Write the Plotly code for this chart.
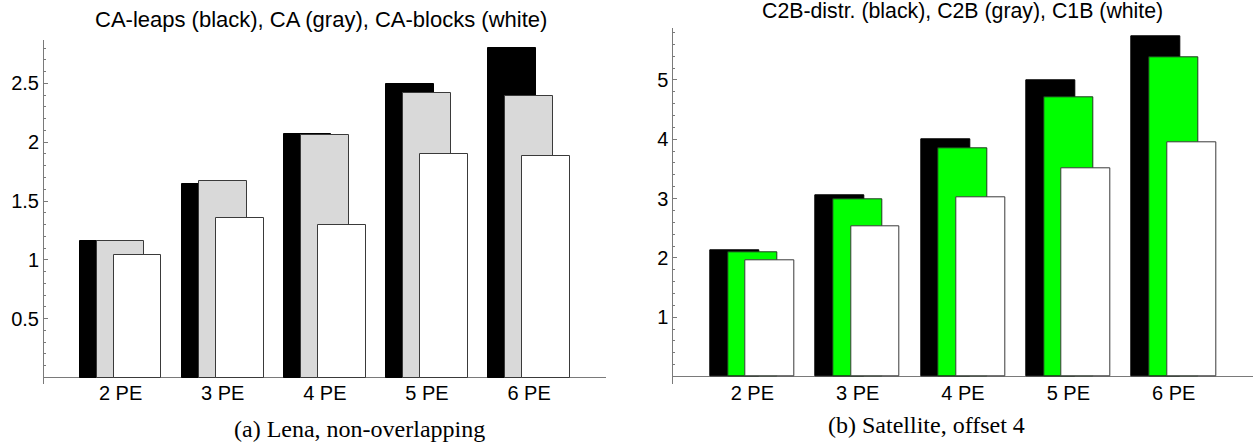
import plotly.graph_objects as go

W, H = 1255, 443

categories = ["2 PE", "3 PE", "4 PE", "5 PE", "6 PE"]

# Panel (a): Lena, non-overlapping
ca_leaps = [1.163, 1.642, 2.072, 2.491, 2.802]
ca = [1.163, 1.670, 2.061, 2.415, 2.395]
ca_blocks = [1.041, 1.353, 1.299, 1.899, 1.880]

# Panel (b): Satellite, offset 4
c2b_distr = [2.122, 3.056, 4.000, 4.994, 5.741]
c2b = [2.088, 2.988, 3.841, 4.701, 5.387]
c1b = [1.953, 2.530, 3.015, 3.504, 3.942]

left_ticks = [0.5, 1, 1.5, 2, 2.5]
left_ticktext = ["0.5", "1", "1.5", "2", "2.5"]
right_ticks = [1, 2, 3, 4, 5]
right_ticktext = ["1", "2", "3", "4", "5"]

xpos = list(range(len(categories)))
BW = 0.465
OFFS = [-0.40, -0.232, -0.065]

fig = go.Figure()

def add_bars(vals_list, colors, lines, xa, ya):
    for vals, col, lc, off in zip(vals_list, colors, lines, OFFS):
        fig.add_trace(go.Bar(
            x=xpos, y=vals, xaxis=xa, yaxis=ya,
            width=BW, offset=off,
            marker=dict(color=col, line=dict(color=lc, width=1)),
            showlegend=False, hoverinfo="skip",
        ))

add_bars([ca_leaps, ca, ca_blocks], ["#000000", "#d9d9d9", "#ffffff"],
         ["#000000", "#3a3a3a", "#3a3a3a"], "x", "y")
add_bars([c2b_distr, c2b, c1b], ["#000000", "#00ff00", "#ffffff"],
         ["#000000", "#1e3a1e", "#3a3a3a"], "x2", "y2")

def px_x(p):
    return p / W

def px_y(p):
    return (H - p) / H

axis_gray = "#7a7a7a"
tickfont = dict(family="Liberation Sans, Arial, sans-serif", size=20, color="#000")

common_x = dict(
    tickmode="array", tickvals=xpos, ticktext=categories,
    range=[-0.75, 4.75], showgrid=False, zeroline=False, showline=False,
    ticks="", tickfont=tickfont, fixedrange=True, ticklabelstandoff=-5,
)
common_y = dict(
    showgrid=False, showline=True, linecolor=axis_gray, linewidth=1,
    zeroline=True, zerolinecolor=axis_gray, zerolinewidth=1,
    ticks="inside", ticklen=4, tickcolor=axis_gray, tickwidth=1,
    tickfont=tickfont, tickmode="array",
)

fig.update_layout(
    width=W, height=H, autosize=False,
    margin=dict(l=0, r=0, t=0, b=0),
    paper_bgcolor="white", plot_bgcolor="white",
    barmode="overlay", bargap=0,
    xaxis=dict(domain=[px_x(44), px_x(605.7)], anchor="y", **common_x),
    yaxis=dict(domain=[px_y(384), px_y(40)], anchor="x",
               range=[-0.055, 2.868], tickvals=left_ticks, ticktext=left_ticktext,
               minor=dict(dtick=0.1, tick0=0, ticks="inside", ticklen=2,
                          tickcolor=axis_gray, showgrid=False),
               **common_y),
    xaxis2=dict(domain=[px_x(673.3), px_x(1252.7)], anchor="y2", **common_x),
    yaxis2=dict(domain=[px_y(384), px_y(28.3)], anchor="x2",
                range=[-0.125, 5.87], tickvals=right_ticks, ticktext=right_ticktext,
                minor=dict(dtick=0.2, tick0=0, ticks="inside", ticklen=2,
                           tickcolor=axis_gray, showgrid=False),
                **common_y),
)

sans = "Liberation Sans, Arial, sans-serif"
serif = "Liberation Serif, Times New Roman, serif"

annos = [
    ("CA-leaps (black), CA (gray), CA-blocks (white)", 321, 19, sans, 22),
    ("C2B-distr. (black), C2B (gray), C1B (white)", 962.5, 10.7, sans, 21.3),
    ("(a) Lena, non-overlapping", 359, 429, serif, 24),
    ("(b) Satellite, offset 4", 926, 425, serif, 24),
]
for txt, x, y, fam, sz in annos:
    fig.add_annotation(text=txt, x=px_x(x), y=px_y(y), xref="paper", yref="paper",
                       xanchor="center", yanchor="middle", showarrow=False,
                       font=dict(family=fam, size=sz, color="#000"))

fig.write_html("out.html", config={"displayModeBar": False})
